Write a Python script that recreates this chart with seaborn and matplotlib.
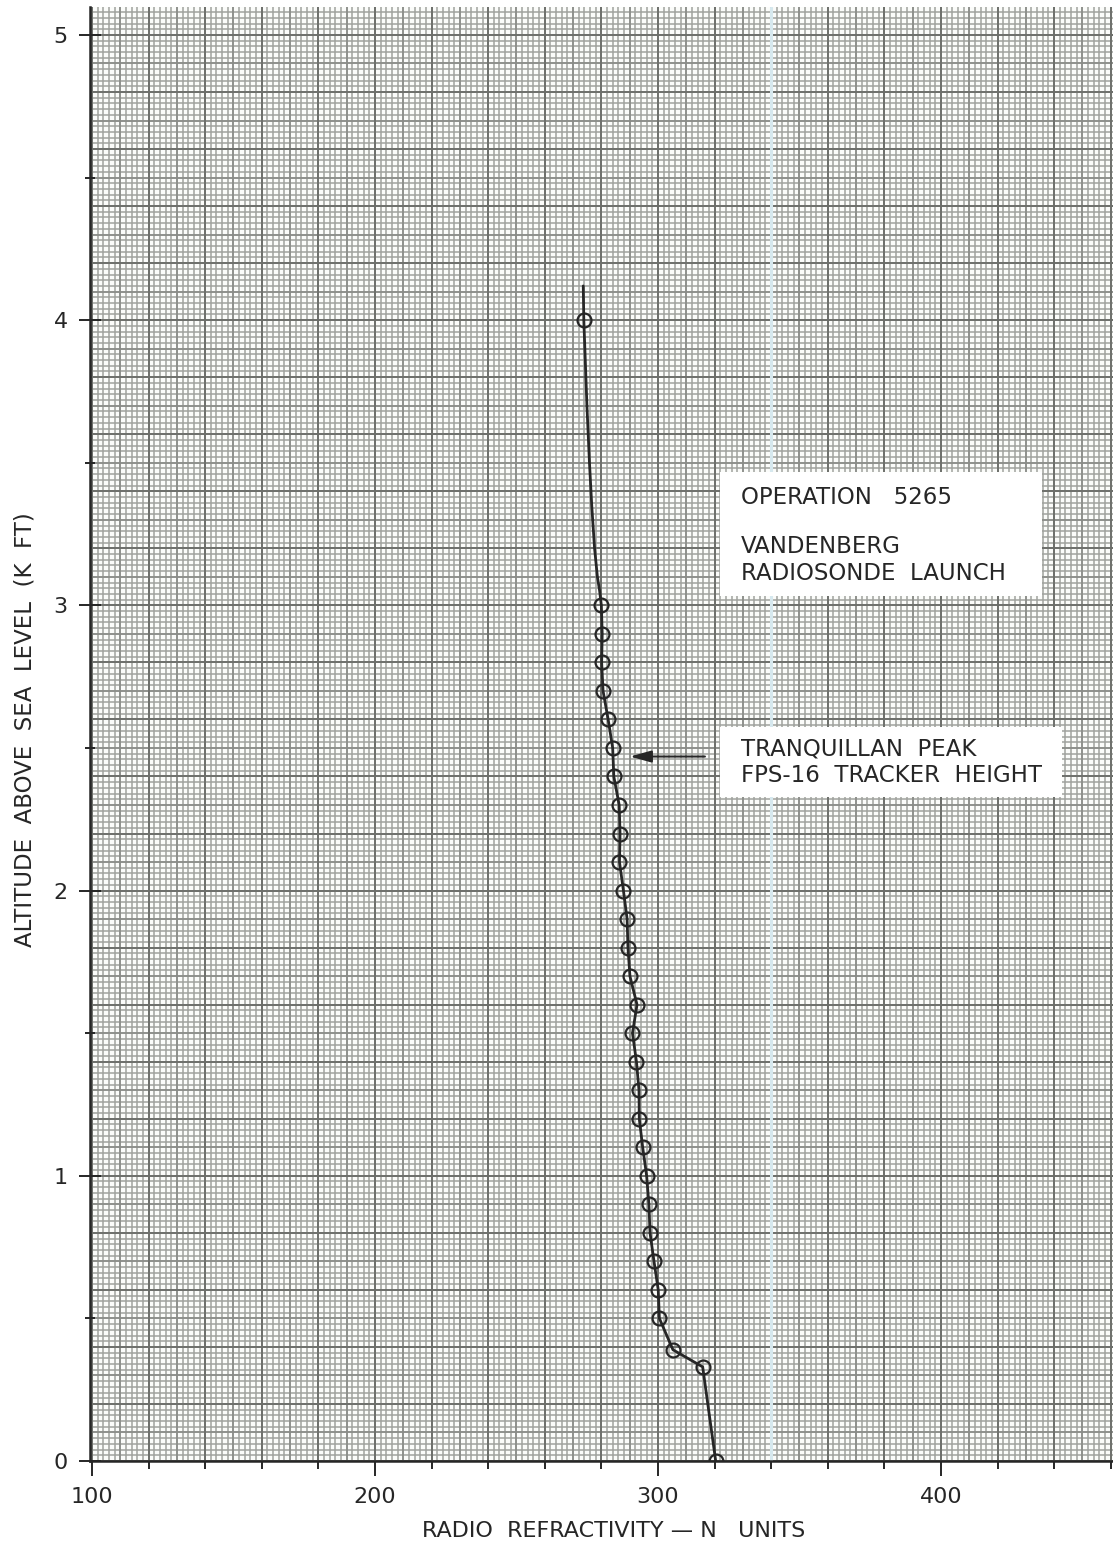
import numpy as np
import pandas as pd
import matplotlib
matplotlib.use("Agg")
import matplotlib.pyplot as plt
from matplotlib.patches import Rectangle
from matplotlib.ticker import MultipleLocator, FixedLocator
import seaborn as sns

# Radiosonde sounding: altitude (kft above sea level) vs radio refractivity (N units)
altitude_kft = [0.0, 0.33, 0.39, 0.5, 0.6, 0.7, 0.8, 0.9, 1.0, 1.1, 1.2, 1.3,
                1.4, 1.5, 1.6, 1.7, 1.8, 1.9, 2.0, 2.1, 2.2, 2.3, 2.4, 2.5,
                2.6, 2.7, 2.8, 2.9, 3.0, 4.0]
refractivity_n = [320.4, 315.8, 305.3, 300.5, 300.1, 298.6, 297.2, 296.8, 296.0,
                  294.6, 293.4, 293.3, 292.4, 291.0, 292.6, 290.1, 289.4, 289.1,
                  287.8, 286.4, 286.6, 286.3, 284.4, 284.0, 282.4, 280.6, 280.1,
                  280.3, 280.0, 273.8]

# Faired curve from the 3 kft reading up past the 4 kft reading
curve_altitude_kft = [3.0, 3.05, 3.1, 3.2, 3.35, 3.5, 3.7, 4.0, 4.12]
curve_refractivity_n = [280.0, 279.4, 278.6, 277.6, 276.6, 275.8, 274.9, 273.8, 273.6]

x_tick_values = [100, 200, 300, 400]
y_tick_values = [0, 1, 2, 3, 4, 5]
tracker_height_kft = 2.47

ink = "#262626"

sns.set_theme(style="white")
plt.rcParams["font.family"] = ["DejaVu Sans"]

fig = plt.figure(figsize=(11.13, 15.47), dpi=100)
fig.patch.set_facecolor("white")
ax = fig.add_axes([90 / 1113, 86 / 1547, 1023 / 1113, 1454 / 1547])
ax.set_facecolor("#fbfcfa")
ax.set_xlim(99.3, 460.8)
ax.set_ylim(0, 5.098)

# Graph-paper ruling: fine, medium and heavy lines
for xstep, ystep, col, lw, z in [(2, 0.02, "#a0a29e", 1.1, 0.3),
                                 (10, 0.1, "#8a8c88", 1.2, 0.4),
                                 (20, 0.2, "#6c6e6a", 1.3, 0.5)]:
    xs = np.arange(100, 462, xstep)
    ys = np.arange(0, 5.11, ystep)
    ax.vlines(xs, 0, 5.2, colors=col, lw=lw, zorder=z)
    ax.hlines(ys, 99, 462, colors=col, lw=lw, zorder=z)
ax.axvline(340, color="#d6e8ee", lw=2.2, zorder=0.8)

# Continuous profile: sounding points below 3 kft, faired curve above
below = [(n, a) for n, a in zip(refractivity_n, altitude_kft) if a < 3.0]
path = pd.DataFrame(
    below + list(zip(curve_refractivity_n, curve_altitude_kft)),
    columns=["N", "alt"])
sns.lineplot(data=path, x="N", y="alt", sort=False, estimator=None,
             color=ink, lw=2.0, ax=ax, zorder=5)

# Open-circle markers at the sounding levels
df = pd.DataFrame({"N": refractivity_n, "alt": altitude_kft})
sns.lineplot(data=df, x="N", y="alt", sort=False, estimator=None, color=ink,
             linestyle="", marker="o", markersize=10, markerfacecolor="none",
             markeredgecolor=ink, markeredgewidth=1.6, ax=ax, zorder=6)

# Annotation panels
ax.add_patch(Rectangle((321.9, 3.033), 113.8, 0.435, fc="white", ec="none", zorder=3))
ax.add_patch(Rectangle((321.9, 2.328), 120.9, 0.246, fc="white", ec="none", zorder=3))
tkw = dict(fontsize=16.5, color=ink, va="center", ha="left", zorder=7)
ax.text(329.3, 3.377, "OPERATION   5265", **tkw)
ax.text(329.3, 3.208, "VANDENBERG", **tkw)
ax.text(329.3, 3.110, "RADIOSONDE  LAUNCH", **tkw)
ax.text(329.3, 2.497, "TRANQUILLAN  PEAK", **tkw)
ax.text(329.3, 2.402, "FPS-16  TRACKER  HEIGHT", **tkw)

ax.annotate("", xy=(290.1, tracker_height_kft), xytext=(316.6, tracker_height_kft),
            arrowprops=dict(arrowstyle="-|>,head_length=0.65,head_width=0.18",
                            mutation_scale=20, lw=1.5, color=ink,
                            shrinkA=0, shrinkB=0), zorder=7)

# Axes, ticks and labels
ax.xaxis.set_major_locator(FixedLocator(x_tick_values))
ax.xaxis.set_minor_locator(MultipleLocator(20))
ax.yaxis.set_major_locator(FixedLocator(y_tick_values))
ax.yaxis.set_minor_locator(MultipleLocator(0.5))
ax.tick_params(axis="x", which="major", direction="out", length=11, width=1.4,
               pad=8, labelsize=16, colors=ink, bottom=True)
ax.tick_params(axis="x", which="minor", direction="out", length=6, width=1.4,
               colors=ink, bottom=True)
ax.tick_params(axis="y", which="major", direction="inout", length=16, width=1.4,
               pad=8, labelsize=16, colors=ink, left=True)
ax.tick_params(axis="y", which="minor", direction="inout", length=7, width=1.4,
               colors=ink, left=True)

for side in ["top", "right"]:
    ax.spines[side].set_visible(False)
for side in ["left", "bottom"]:
    ax.spines[side].set_linewidth(1.8)
    ax.spines[side].set_color(ink)
    ax.spines[side].set_zorder(8)

ax.set_xlabel("RADIO  REFRACTIVITY — N   UNITS", fontsize=16, color=ink)
ax.xaxis.set_label_coords((614 - 90) / 1023, (1461 - 1531) / 1454)
ax.xaxis.label.set_va("center")
ax.set_ylabel("ALTITUDE  ABOVE  SEA  LEVEL  (K  FT)", fontsize=16.5, color=ink)
ax.yaxis.set_label_coords((25 - 90) / 1023, (1461 - 730) / 1454)
ax.yaxis.label.set_va("center")

fig.savefig("out.png", dpi=100)
